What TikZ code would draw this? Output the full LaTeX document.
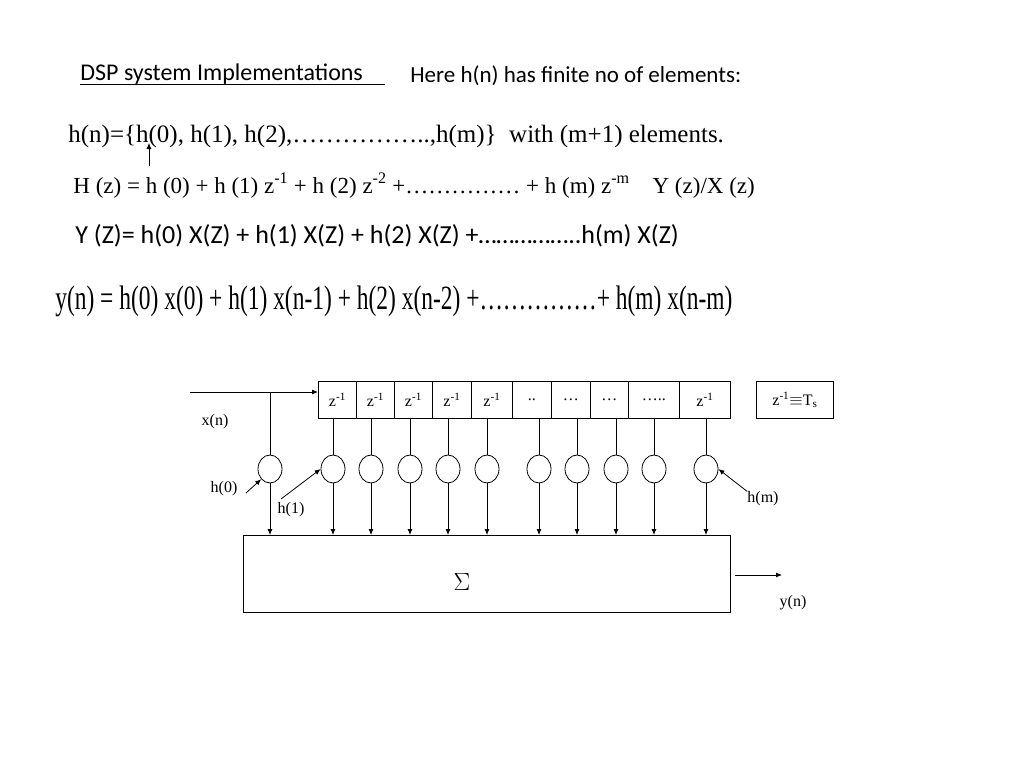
\documentclass[tikz,border=0pt]{standalone}
\usepackage{fontspec}
\setmainfont{Liberation Serif}
\newfontfamily\calib{Carlito}
\usetikzlibrary{arrows.meta,shapes.geometric}
\tikzset{
 delay/.style={draw,minimum height=37pt,inner sep=0pt,anchor=north west,font=\fontsize{16}{18}\selectfont},
 mult/.style={draw,ellipse,minimum width=24pt,minimum height=28pt,inner sep=0pt},
 arr/.style={-{Latex[length=6pt,width=5pt]}},
 lbl/.style={font=\fontsize{16}{18}\selectfont,inner sep=0pt}
}
\begin{document}
\begin{tikzpicture}[x=1pt,y=-1pt,line width=0.8pt]
 \useasboundingbox (0,0) rectangle (1024,768);
 % headings
 \node[anchor=base west,font=\calib\fontsize{24}{28}\selectfont,inner sep=0pt] (title) at (80,80) {DSP system Implementations};
 \draw (80,84) -- (385,84);
 \node[anchor=base west,font=\calib\fontsize{23}{28}\selectfont,inner sep=0pt] (here) at (410,82) {Here h(n) has finite no of elements:};
 % equations
 \node[anchor=base west,font=\fontsize{25}{28}\selectfont,inner sep=0pt] (hn) at (68,142) {h(n)=\{h(0), h(1), h(2),\dots\dots\dots\dots\dots..,h(m)\}\ \ with (m+1) elements.};
 \coordinate (hz) at (149,166);
 \draw[arr] (hz) -- (149,143);
 \node[anchor=base west,font=\fontsize{23}{26}\selectfont,inner sep=0pt] (Hz) at (73,193) {H (z) = h (0) + h (1) z\textsuperscript{-1} + h (2) z\textsuperscript{-2} +\dots\dots\dots\dots\dots\ + h (m) z\textsuperscript{-m}\ \ \ \ Y (z)/X (z)};
 \node[anchor=base west,font=\calib\fontsize{26}{30}\selectfont,inner sep=0pt] (Yz) at (75,243) {Y (Z)= h(0) X(Z) + h(1) X(Z) + h(2) X(Z) +\dots\dots\dots\dots\dots..h(m) X(Z)};
 \node[anchor=base west,font=\fontsize{34}{38}\selectfont,inner sep=0pt,xscale=0.69] (yn) at (55,309) {y(n) = h(0) x(0) + h(1) x(n-1) + h(2) x(n-2) +\dots\dots\dots\dots\dots+ h(m) x(n-m)};
 % delay line
 \foreach \i/\a/\b/\t in {0/318/356/z\textsuperscript{-1},1/356/394/z\textsuperscript{-1},2/394/432/z\textsuperscript{-1},3/432/471/z\textsuperscript{-1},4/471/512/z\textsuperscript{-1},5/512/551/..,6/551/590/\dots,7/590/628/\dots,8/628/679/\dots..,9/679/730/z\textsuperscript{-1}}
  \node[delay,minimum width={(\b-\a)*1pt}] (d\i) at (\a,381) {\t};
 \node[delay,minimum width=77pt] (ts) at (756,381) {z\textsuperscript{-1}$\equiv$T\textsubscript{s}};
 % sum box
 \node[draw,minimum width=487pt,minimum height=77pt,inner sep=0pt,anchor=north west] (sum) at (243,535) {};
 \node[font=\fontsize{38}{40}\selectfont] (sig) at (462,582) {$\Sigma$};
 % input
 \coordinate (xin) at (190,392);
 \draw[arr] (xin) -- (d0.west |- xin);
 \node[lbl] (xn) at (215,422) {x(n)};
 \node[mult] (m0) at (270,469) {};
 \draw (270,392) -- (m0.north);
 \draw[arr] (m0.south) -- (m0.south |- sum.north);
 % taps
 \foreach \n/\x in {1/333,2/371,3/410,4/448,5/487,6/539,7/577,8/616,9/654,10/706}{
  \node[mult] (m\n) at (\x,469) {};
  \draw (\x,418) -- (m\n.north);
  \draw[arr] (m\n.south) -- (m\n.south |- sum.north);
 }
 % labels
 \node[lbl] (h0) at (224,489) {h(0)};
 \draw[arr] (246,493) -- (m0.south west);
 \node[lbl] (h1) at (291,510) {h(1)};
 \draw[arr] (281,499) -- (m1.west);
 \node[lbl] (hm) at (763,499) {h(m)};
 \draw[arr] (hm.north west) -- (m10.east);
 % output
 \coordinate (yout) at (782,575);
 \draw[arr] (735,575) -- (yout);
 \node[lbl] (yo) at (793,603) {y(n)};
\end{tikzpicture}
\end{document}
